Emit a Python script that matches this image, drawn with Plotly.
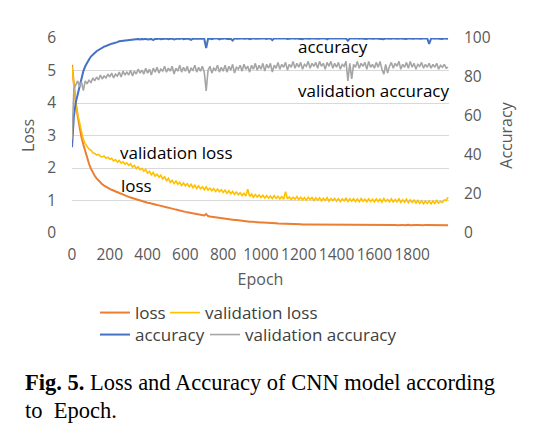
import plotly.graph_objects as go

# ---------------- data ----------------
epochs = list(range(0, 2000, 10))

loss = [
    5.17, 4.50, 4.00, 3.60, 3.25, 2.95, 2.72, 2.50, 2.30, 2.13,
    1.98, 1.86, 1.76, 1.68, 1.61, 1.55, 1.50, 1.46, 1.42, 1.39,
    1.36, 1.33, 1.30, 1.28, 1.26, 1.23, 1.21, 1.18, 1.16, 1.14,
    1.11, 1.09, 1.07, 1.05, 1.03, 1.01, 0.99, 0.98, 0.96, 0.95,
    0.93, 0.92, 0.90, 0.89, 0.88, 0.86, 0.85, 0.83, 0.82, 0.81,
    0.79, 0.78, 0.76, 0.75, 0.73, 0.72, 0.71, 0.69, 0.68, 0.67,
    0.65, 0.64, 0.63, 0.61, 0.60, 0.59, 0.58, 0.57, 0.56, 0.55,
    0.54, 0.58, 0.52, 0.51, 0.50, 0.49, 0.48, 0.47, 0.47, 0.46,
    0.45, 0.44, 0.43, 0.43, 0.42, 0.41, 0.40, 0.40, 0.39, 0.38,
    0.38, 0.37, 0.36, 0.36, 0.35, 0.35, 0.34, 0.34, 0.33, 0.33,
    0.32, 0.32, 0.32, 0.31, 0.31, 0.31, 0.30, 0.30, 0.30, 0.29,
    0.29, 0.29, 0.29, 0.28, 0.28, 0.28, 0.28, 0.27, 0.27, 0.27,
    0.27, 0.27, 0.26, 0.27, 0.26, 0.26, 0.26, 0.26, 0.27, 0.26,
    0.26, 0.26, 0.26, 0.25, 0.26, 0.26, 0.25, 0.26, 0.26, 0.25,
    0.26, 0.25, 0.26, 0.25, 0.25, 0.26, 0.25, 0.25, 0.26, 0.25,
    0.25, 0.25, 0.26, 0.25, 0.25, 0.25, 0.26, 0.25, 0.25, 0.25,
    0.25, 0.26, 0.25, 0.25, 0.25, 0.25, 0.26, 0.25, 0.25, 0.25,
    0.25, 0.25, 0.24, 0.25, 0.25, 0.25, 0.24, 0.25, 0.25, 0.24,
    0.25, 0.24, 0.25, 0.25, 0.24, 0.25, 0.24, 0.25, 0.25, 0.24,
    0.24, 0.25, 0.25, 0.24, 0.24, 0.25, 0.24, 0.24, 0.25, 0.24,
]

val_loss = [
    5.12, 4.55, 4.00, 3.65, 3.38, 3.10, 2.88, 2.75, 2.68, 2.58,
    2.55, 2.47, 2.45, 2.40, 2.42, 2.36, 2.34, 2.37, 2.30, 2.33,
    2.27, 2.30, 2.22, 2.26, 2.18, 2.23, 2.15, 2.19, 2.12, 2.16,
    2.08, 2.13, 2.03, 2.08, 1.98, 2.04, 1.95, 1.99, 1.90, 1.96,
    1.84, 1.90, 1.79, 1.86, 1.75, 1.81, 1.72, 1.78, 1.66, 1.74,
    1.60, 1.68, 1.56, 1.62, 1.52, 1.60, 1.50, 1.56, 1.46, 1.54,
    1.45, 1.52, 1.42, 1.50, 1.40, 1.47, 1.37, 1.45, 1.36, 1.42,
    1.33, 1.42, 1.32, 1.38, 1.30, 1.37, 1.28, 1.35, 1.27, 1.33,
    1.25, 1.32, 1.22, 1.30, 1.21, 1.28, 1.19, 1.26, 1.18, 1.24,
    1.15, 1.22, 1.14, 1.35, 1.12, 1.20, 1.10, 1.18, 1.11, 1.17,
    1.09, 1.16, 1.08, 1.15, 1.07, 1.14, 1.06, 1.15, 1.07, 1.13,
    1.05, 1.12, 1.04, 1.27, 1.05, 1.11, 1.03, 1.10, 1.04, 1.12,
    1.03, 1.10, 1.02, 1.09, 1.01, 1.10, 1.03, 1.09, 1.00, 1.08,
    1.01, 1.08, 0.99, 1.07, 1.00, 1.09, 0.98, 1.06, 1.00, 1.07,
    0.98, 1.06, 0.97, 1.05, 0.99, 1.07, 0.97, 1.05, 0.98, 1.06,
    0.97, 1.05, 0.96, 1.06, 0.98, 1.04, 0.96, 1.05, 0.97, 1.04,
    0.96, 1.05, 0.97, 1.04, 0.95, 1.06, 0.97, 1.03, 0.96, 1.05,
    0.95, 1.03, 0.96, 1.05, 0.94, 1.02, 0.95, 1.04, 0.93, 1.02,
    0.94, 1.01, 0.92, 1.00, 0.91, 0.99, 0.90, 0.98, 0.91, 0.99,
    0.90, 0.98, 0.91, 1.00, 0.92, 0.97, 0.94, 1.02, 1.00, 1.10,
]

accuracy = [
    44.0, 60.0, 67.0, 71.0, 76.0, 80.0, 83.0, 85.5, 87.5, 89.0,
    90.5, 91.6, 92.3, 93.2, 93.8, 94.6, 95.0, 95.6, 95.9, 96.4,
    96.6, 97.1, 97.3, 97.8, 97.9, 98.3, 98.4, 98.7, 98.8, 99.0,
    99.1, 99.2, 99.0, 99.4, 99.3, 99.5, 99.2, 99.5, 99.4, 99.6,
    99.3, 99.6, 99.5, 98.9, 99.6, 99.5, 99.7, 99.4, 99.6, 99.5,
    99.7, 99.4, 99.6, 99.7, 99.2, 99.6, 99.7, 99.5, 99.8, 99.4,
    99.6, 99.7, 99.5, 99.1, 99.7, 99.6, 99.8, 99.5, 99.6, 99.7,
    99.5, 94.8, 99.6, 99.7, 99.4, 99.7, 99.6, 99.8, 99.3, 99.7,
    99.6, 99.8, 99.5, 99.7, 99.6, 98.7, 99.8, 99.6, 99.7, 99.5,
    99.8, 99.6, 99.7, 99.8, 99.4, 99.7, 99.8, 99.6, 99.7, 99.8,
    99.6, 99.8, 99.7, 99.5, 99.8, 99.7, 98.9, 99.8, 99.7, 99.8,
    99.6, 99.8, 99.7, 99.8, 99.5, 99.8, 99.7, 99.8, 99.6, 99.8,
    99.7, 99.8, 99.4, 99.8, 99.7, 99.8, 99.6, 99.8, 99.7, 99.8,
    99.8, 99.6, 99.8, 99.7, 99.8, 99.3, 99.8, 99.7, 99.8, 99.6,
    99.8, 99.7, 99.8, 99.6, 99.8, 99.7, 98.6, 99.8, 99.7, 99.8,
    99.7, 99.8, 99.6, 99.8, 99.7, 99.8, 99.5, 99.8, 99.7, 99.8,
    99.6, 99.8, 99.7, 99.8, 99.7, 99.4, 99.8, 99.7, 99.8, 99.6,
    99.8, 99.7, 99.8, 99.6, 99.8, 99.7, 99.8, 99.5, 99.8, 99.7,
    99.8, 99.6, 99.8, 99.7, 99.8, 99.6, 99.8, 99.7, 99.8, 96.9,
    99.7, 99.8, 99.6, 99.8, 99.7, 99.8, 99.5, 99.8, 99.7, 99.6,
]

val_accuracy = [
    48.0, 74.0, 76.0, 78.0, 75.0, 77.5, 73.0, 78.0, 76.5, 78.5,
    77.0, 79.5, 78.0, 80.0, 78.5, 81.0, 79.0, 80.5, 79.5, 81.5,
    80.0, 82.0, 79.5, 81.5, 80.5, 82.5, 80.0, 83.0, 81.0, 82.5,
    81.0, 83.5, 80.5, 83.0, 81.5, 84.0, 82.0, 83.5, 81.5, 84.5,
    82.0, 84.0, 81.0, 84.5, 82.5, 85.0, 82.0, 84.0, 83.0, 85.5,
    82.5, 84.5, 83.0, 85.5, 81.5, 84.5, 83.0, 86.0, 82.5, 85.0,
    83.0, 85.5, 82.0, 84.5, 83.5, 86.0, 82.5, 85.0, 83.0, 85.5,
    82.5, 72.8, 83.5, 85.5, 82.0, 84.5, 83.5, 86.0, 82.5, 85.0,
    83.0, 86.0, 82.5, 85.5, 83.5, 86.5, 82.0, 85.0, 84.0, 86.0,
    83.0, 86.5, 84.0, 85.5, 82.5, 86.0, 84.0, 87.0, 83.5, 86.0,
    84.0, 87.0, 83.0, 86.5, 84.5, 87.0, 82.5, 86.0, 84.5, 87.5,
    84.0, 86.5, 85.0, 87.5, 83.5, 86.5, 85.0, 88.0, 84.5, 87.0,
    85.0, 87.5, 84.0, 86.5, 85.5, 88.0, 84.5, 87.0, 85.5, 87.5,
    84.5, 88.0, 85.5, 87.0, 84.0, 87.5, 85.5, 88.0, 84.5, 87.0,
    85.0, 87.5, 84.0, 86.5, 85.5, 88.0, 78.0, 87.0, 79.0, 86.5,
    85.0, 88.0, 84.5, 87.0, 85.5, 87.5, 84.0, 88.0, 85.0, 86.5,
    84.5, 87.5, 85.0, 88.0, 84.0, 81.4, 86.5, 82.0, 85.5, 87.5,
    84.5, 87.0, 85.5, 88.0, 84.0, 86.5, 85.0, 87.5, 84.5, 88.0,
    85.0, 87.0, 84.0, 86.5, 85.5, 87.5, 84.5, 86.5, 85.0, 87.0,
    84.5, 86.5, 85.0, 87.0, 84.0, 86.0, 85.0, 86.5, 84.5, 85.0,
]

epoch_ticks = [0, 200, 400, 600, 800, 1000, 1200, 1400, 1600, 1800]
loss_ticks = [0, 1, 2, 3, 4, 5, 6]
acc_ticks = [0, 20, 40, 60, 80, 100]

# ---------------- styling ----------------
W, H = 543, 436
ML, MR, MT, MB = 72, 94, 38, 203
PW, PH = W - ML - MR, H - MT - MB

FONT = "Open Sans"
TICK = "#595959"
C_LOSS, C_VLOSS, C_ACC, C_VACC = "#ED7D31", "#FFC000", "#4472C4", "#A5A5A5"


def px_x(px):
    return (px - ML) / PW


def px_y(py):
    return (H - MB - py) / PH


fig = go.Figure()
fig.add_trace(go.Scatter(x=epochs, y=loss, name="loss", mode="lines",
                         line=dict(color=C_LOSS, width=2), legend="legend"))
fig.add_trace(go.Scatter(x=epochs, y=val_loss, name="validation loss", mode="lines",
                         line=dict(color=C_VLOSS, width=1.6), legend="legend2"))
fig.add_trace(go.Scatter(x=epochs, y=accuracy, name="accuracy", mode="lines", yaxis="y2",
                         line=dict(color=C_ACC, width=2), legend="legend3"))
fig.add_trace(go.Scatter(x=epochs, y=val_accuracy, name="validation accuracy", mode="lines",
                         yaxis="y2", line=dict(color=C_VACC, width=1.6), legend="legend4"))

legend_common = dict(
    orientation="h", xref="paper", yref="paper",
    xanchor="left", yanchor="middle",
    font=dict(family=FONT, size=17, color="#404040"),
    bgcolor="rgba(0,0,0,0)", itemwidth=30,
)

fig.update_layout(
    width=W, height=H,
    margin=dict(l=ML, r=MR, t=MT, b=MB, autoexpand=False),
    paper_bgcolor="white", plot_bgcolor="white",
    font=dict(family=FONT, size=15, color=TICK),
    showlegend=True,
    legend=dict(x=px_x(95), y=px_y(313), **legend_common),
    legend2=dict(x=px_x(165), y=px_y(313), **legend_common),
    legend3=dict(x=px_x(95), y=px_y(335), **legend_common),
    legend4=dict(x=px_x(205), y=px_y(335), **legend_common),
    xaxis=dict(
        range=[0, 1995], tickvals=epoch_ticks, showgrid=False, zeroline=False,
        showline=False, ticks="", ticklabelstandoff=10, automargin=False,
        tickfont=dict(family=FONT, size=15.5, color=TICK),
        title=dict(text="Epoch", font=dict(family=FONT, size=16, color=TICK), standoff=10),
    ),
    yaxis=dict(
        range=[0, 6], tickvals=loss_ticks, showgrid=True, gridcolor="#D9D9D9", gridwidth=1,
        zeroline=False, showline=False, ticks="", ticklabelstandoff=15, automargin=False,
        tickfont=dict(family=FONT, size=15.5, color=TICK),
        title=dict(text="Loss", font=dict(family=FONT, size=16, color=TICK), standoff=8),
    ),
    yaxis2=dict(
        range=[0, 100], tickvals=acc_ticks, overlaying="y", side="right",
        showgrid=False, zeroline=False, showline=False, ticks="", ticklabelstandoff=14,
        automargin=False,
        tickfont=dict(family=FONT, size=15.5, color=TICK),
        title=dict(text="Accuracy", font=dict(family=FONT, size=16, color=TICK), standoff=11),
    ),
)

label_font = dict(family=FONT, size=17, color="black")
for txt, ex, ly in [("accuracy", 1183, 5.74), ("validation accuracy", 1183, 4.40),
                    ("validation loss", 245, 2.48), ("loss", 250, 1.47)]:
    fig.add_annotation(x=ex, y=ly, xref="x", yref="y", text=txt, showarrow=False,
                       xanchor="left", yanchor="middle", font=label_font)

cap_font = dict(family="Liberation Serif", size=22.5, color="black")
fig.add_annotation(x=px_x(23), y=px_y(382), xref="paper", yref="paper",
                   text="<b>Fig. 5.</b> Loss and Accuracy of CNN model according",
                   showarrow=False, xanchor="left", yanchor="middle", font=cap_font)
fig.add_annotation(x=px_x(23), y=px_y(410), xref="paper", yref="paper",
                   text="to\u00a0 Epoch.",
                   showarrow=False, xanchor="left", yanchor="middle", font=cap_font)

fig.write_html("out.html", config={"displayModeBar": False},
               post_script="document.body.style.margin='0';")
